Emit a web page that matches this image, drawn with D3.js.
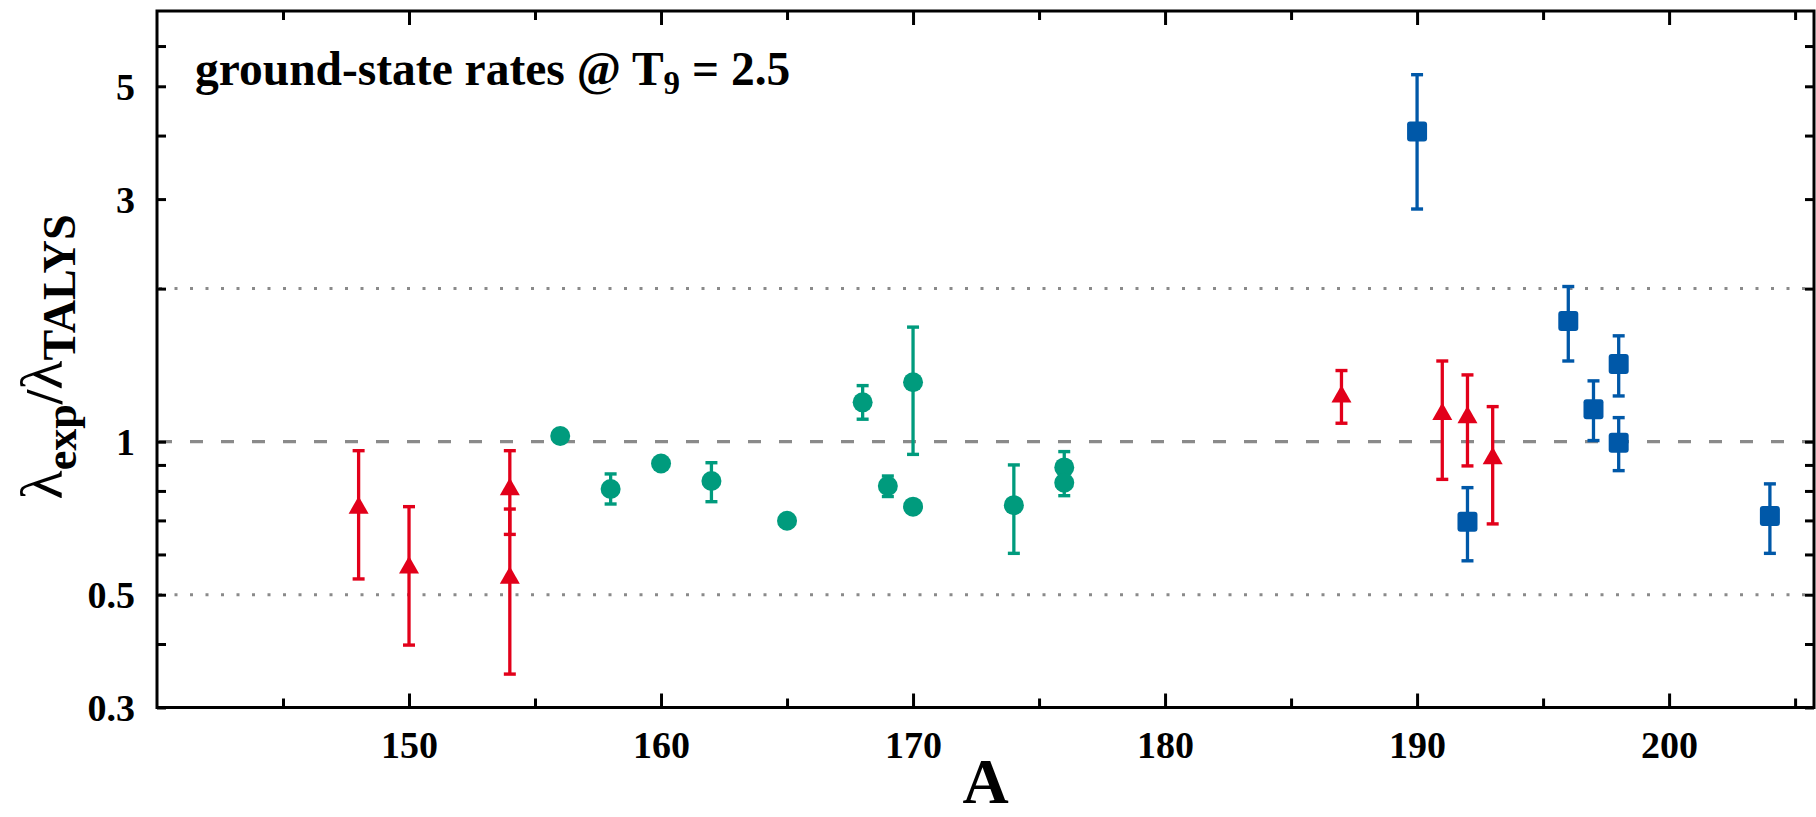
<!DOCTYPE html>
<html>
<head>
<meta charset="utf-8">
<script src="https://cdn.jsdelivr.net/npm/d3@7"></script>
<style>
  html, body { margin: 0; padding: 0; background: #fff; }
  svg { display: block; }
  text { font-family: "Liberation Serif", "Times New Roman", serif; }
</style>
</head>
<body>
<svg id="chart" width="1816" height="817"></svg>
<script>
// ---------------- data ----------------
// red triangles
const redA  = [148, 150, 154, 154, 187, 191, 192, 193];
const redV  = [0.750, 0.572, 0.815, 0.546, 1.241, 1.146, 1.129, 0.938];
const redLo = [0.537, 0.398, 0.657, 0.349, 1.087, 0.843, 0.896, 0.689];
const redHi = [0.960, 0.745, 0.960, 0.737, 1.380, 1.441, 1.353, 1.172];

// green circles
const greenA  = [156, 158, 160, 162, 165, 168, 169, 170, 170, 174, 176, 176];
const greenV  = [1.026, 0.807, 0.906, 0.837, 0.699, 1.195, 0.818, 1.309, 0.745, 0.750, 0.890, 0.830];
const greenLo = [1.026, 0.754, 0.906, 0.762, 0.699, 1.107, 0.780, 0.944, 0.745, 0.603, 0.824, 0.783];
const greenHi = [1.026, 0.864, 0.906, 0.909, 0.699, 1.289, 0.856, 1.680, 0.745, 0.900, 0.956, 0.877];

// blue squares
const blueA  = [190, 192, 196, 197, 198, 198, 204];
const blueV  = [4.076, 0.696, 1.728, 1.158, 1.422, 0.995, 0.714];
const blueLo = [2.868, 0.583, 1.441, 1.005, 1.230, 0.877, 0.603];
const blueHi = [5.270, 0.812, 2.019, 1.317, 1.615, 1.115, 0.826];

// axes
const xMajorTicks = [150, 160, 170, 180, 190, 200];
const xMinorTicks = [145, 155, 165, 175, 185, 195, 205];
const yMajorTicks = [0.3, 0.5, 1, 3, 5];
const yMinorTicks = [0.4, 0.6, 0.7, 0.8, 0.9, 2, 4, 6];
const yTickLabels = ["0.3", "0.5", "1", "3", "5"];
const refLineDashed = [1];
const refLinesDotted = [0.5, 2];

const titleMain = "ground-state rates @ T";
const titleSub = "9";
const titleEnd = " = 2.5";
const xLabel = "A";

// ---------------- layout ----------------
const L = 157, R = 1814, T = 11, B = 707.5;
const svg = d3.select("#chart");

const x = d3.scaleLinear().domain([140, 205.75]).range([L, R]);
const y = d3.scaleLog().domain([0.3, 7]).range([B, T + 1]);

const red = "#e2001a", green = "#009b7d", blue = "#0058a8", grey = "#8a8a8a";

// reference lines
svg.append("g").selectAll("line").data(refLinesDotted).join("line")
  .attr("x1", L + 2).attr("x2", R)
  .attr("y1", d => y(d)).attr("y2", d => y(d))
  .attr("stroke", grey).attr("stroke-width", 3)
  .attr("stroke-dasharray", "3 12.5");
svg.append("g").selectAll("line").data(refLineDashed).join("line")
  .attr("x1", L + 2).attr("x2", R)
  .attr("y1", d => y(d)).attr("y2", d => y(d))
  .attr("stroke", grey).attr("stroke-width", 3.2)
  .attr("stroke-dasharray", "13 18");

// axes
function styleAxis(g) {
  g.select(".domain").remove();
  g.selectAll(".tick line").attr("stroke", "#000").attr("stroke-width", 3);
  g.selectAll(".tick text").attr("fill", "#000")
    .style("font-family", '"Liberation Serif", "Times New Roman", serif')
    .style("font-weight", "bold").style("font-size", "38px");
}
svg.append("g").attr("transform", `translate(0,${B})`)
  .call(d3.axisBottom(x).tickValues(xMajorTicks).tickSize(-14).tickFormat(d3.format("d")))
  .call(styleAxis)
  .call(g => g.selectAll(".tick text").attr("y", 0).attr("dy", 0).attr("transform", "translate(0,50.5)"));
svg.append("g").attr("transform", `translate(0,${B})`)
  .call(d3.axisBottom(x).tickValues(xMinorTicks).tickSize(-9).tickFormat(""))
  .call(styleAxis);
svg.append("g").attr("transform", `translate(0,${T})`)
  .call(d3.axisTop(x).tickValues(xMajorTicks).tickSize(-14).tickFormat(""))
  .call(styleAxis);
svg.append("g").attr("transform", `translate(0,${T})`)
  .call(d3.axisTop(x).tickValues(xMinorTicks).tickSize(-9).tickFormat(""))
  .call(styleAxis);

svg.append("g").attr("transform", `translate(${L},0)`)
  .call(d3.axisLeft(y).tickValues(yMajorTicks).tickSize(-9).tickPadding(22)
        .tickFormat((d, i) => yTickLabels[i]))
  .call(styleAxis)
  .call(g => g.selectAll(".tick text").attr("dy", "0.34em"));
svg.append("g").attr("transform", `translate(${L},0)`)
  .call(d3.axisLeft(y).tickValues(yMinorTicks).tickSize(-9).tickFormat(""))
  .call(styleAxis);
svg.append("g").attr("transform", `translate(${R},0)`)
  .call(d3.axisRight(y).tickValues(yMajorTicks.concat(yMinorTicks)).tickSize(-9).tickFormat(""))
  .call(styleAxis);

// frame
svg.append("rect").attr("x", L).attr("y", T).attr("width", R - L).attr("height", B - T)
  .attr("fill", "none").attr("stroke", "#000").attr("stroke-width", 3);

// series
function series(A, V, Lo, Hi, color, shape) {
  const data = A.map((a, i) => ({a, v: V[i], lo: Lo[i], hi: Hi[i]}));
  const g = svg.append("g");
  const eb = data.filter(d => d.hi > d.lo);
  g.selectAll("line.bar").data(eb).join("line").attr("class", "bar")
    .attr("x1", d => x(d.a)).attr("x2", d => x(d.a))
    .attr("y1", d => y(d.lo)).attr("y2", d => y(d.hi))
    .attr("stroke", color).attr("stroke-width", 3.3);
  ["lo", "hi"].forEach(k => {
    g.selectAll("line.cap" + k).data(eb).join("line").attr("class", "cap" + k)
      .attr("x1", d => x(d.a) - 6).attr("x2", d => x(d.a) + 6)
      .attr("y1", d => y(d[k])).attr("y2", d => y(d[k]))
      .attr("stroke", color).attr("stroke-width", 3.4);
  });
  if (shape === "circle") {
    g.selectAll("circle").data(data).join("circle")
      .attr("cx", d => x(d.a)).attr("cy", d => y(d.v)).attr("r", 10)
      .attr("fill", color);
  } else if (shape === "square") {
    g.selectAll("rect").data(data).join("rect")
      .attr("x", d => x(d.a) - 10).attr("y", d => y(d.v) - 10)
      .attr("width", 20).attr("height", 20).attr("rx", 3)
      .attr("fill", color);
  } else {
    g.selectAll("path").data(data).join("path")
      .attr("d", d => {
        const cx = x(d.a), cy = y(d.v);
        return `M${cx},${cy - 9}L${cx + 10},${cy + 8.5}L${cx - 10},${cy + 8.5}Z`;
      })
      .attr("fill", color);
  }
}
series(redA, redV, redLo, redHi, red, "triangle");
series(greenA, greenV, greenLo, greenHi, green, "circle");
series(blueA, blueV, blueLo, blueHi, blue, "square");

// title
const title = svg.append("text").attr("x", 195).attr("y", 85)
  .style("font-weight", "bold").style("font-size", "47.5px").attr("fill", "#000");
title.append("tspan").text(titleMain);
title.append("tspan").attr("dy", 9).style("font-size", "33px").text(titleSub);
title.append("tspan").attr("dy", -9).text(titleEnd);

// x label
svg.append("text").attr("x", (L + R) / 2).attr("y", 803)
  .attr("text-anchor", "middle")
  .style("font-weight", "bold").style("font-size", "64px").text(xLabel);

// y label
const yl = svg.append("text")
  .attr("transform", "translate(62,357) rotate(-90)")
  .attr("text-anchor", "middle")
  .attr("textLength", 285).attr("lengthAdjust", "spacingAndGlyphs")
  .attr("fill", "#000");
yl.append("tspan").style("font-size", "60px").text("λ");
yl.append("tspan").attr("dy", 14).style("font-size", "44px").style("font-weight", "bold").text("exp");
yl.append("tspan").attr("dy", -14).style("font-size", "52px").style("font-weight", "bold").text("/");
yl.append("tspan").style("font-size", "60px").text("λ");
yl.append("tspan").attr("dy", 13).style("font-size", "46px").style("font-weight", "bold").text("TALYS");
</script>
</body>
</html>
